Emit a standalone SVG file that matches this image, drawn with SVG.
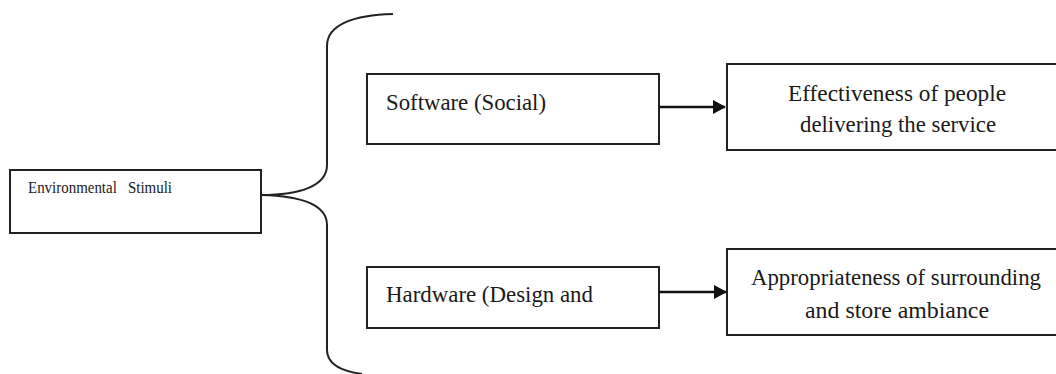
<svg xmlns="http://www.w3.org/2000/svg" width="1056" height="374" viewBox="0 0 1056 374">
  <style>
    .box { fill: #ffffff; stroke: #222222; stroke-width: 2; }
    .lbl { font-family: "Liberation Serif", "DejaVu Serif", serif; fill: #1a1a1a; }
    .big { font-size: 24px; }
    .small { font-size: 16px; }
    .wire { fill: none; stroke: #222222; stroke-width: 2; }
    .arrow { fill: none; stroke: #111111; stroke-width: 2.5; marker-end: url(#head); }
  </style>
  <defs>
    <marker id="head" viewBox="0 0 13 14" refX="12" refY="7" markerWidth="13" markerHeight="14" orient="auto" markerUnits="userSpaceOnUse">
      <path d="M0,0 L13,7 L0,14 Z" fill="#111111"/>
    </marker>
  </defs>
  <rect width="1056" height="374" fill="#ffffff"/>

  <g id="environmental-stimuli">
    <rect class="box" x="10" y="170" width="251" height="63"/>
    <text class="lbl small" x="28" y="193" textLength="144" lengthAdjust="spacingAndGlyphs" xml:space="preserve">Environmental   Stimuli</text>
  </g>

  <g id="software">
    <rect class="box" x="367" y="74" width="292" height="70"/>
    <text class="lbl big" x="386" y="110" textLength="160" lengthAdjust="spacingAndGlyphs">Software (Social)</text>
  </g>

  <g id="hardware">
    <rect class="box" x="367" y="267" width="292" height="61"/>
    <text class="lbl big" x="386" y="302" textLength="207" lengthAdjust="spacingAndGlyphs">Hardware (Design and</text>
  </g>

  <g id="effectiveness">
    <rect class="box" x="727" y="64" width="340" height="86"/>
    <text class="lbl big" x="897" y="101" text-anchor="middle" textLength="218" lengthAdjust="spacingAndGlyphs">Effectiveness of people</text>
    <text class="lbl big" x="898" y="132" text-anchor="middle" textLength="196" lengthAdjust="spacingAndGlyphs">delivering the service</text>
  </g>

  <g id="appropriateness">
    <rect class="box" x="727" y="249" width="340" height="86"/>
    <text class="lbl big" x="896" y="285" text-anchor="middle" textLength="290" lengthAdjust="spacingAndGlyphs">Appropriateness of surrounding</text>
    <text class="lbl big" x="897" y="318" text-anchor="middle" textLength="184" lengthAdjust="spacingAndGlyphs">and store ambiance</text>
  </g>

  <g id="connectors">
    <!-- curly brace splitting the stimuli into its two parts -->
    <path class="wire" d="M393,14 C355,15 327,24 327,46 L327,165 C327,186 300,195 261,195"/>
    <path class="wire" d="M261,195 C300,196 327,204 327,225 L327,350 C327,364 340,371 362,374"/>
    <path class="arrow" d="M659,107 L725,107"/>
    <path class="arrow" d="M659,292 L726,292"/>
  </g>
</svg>
